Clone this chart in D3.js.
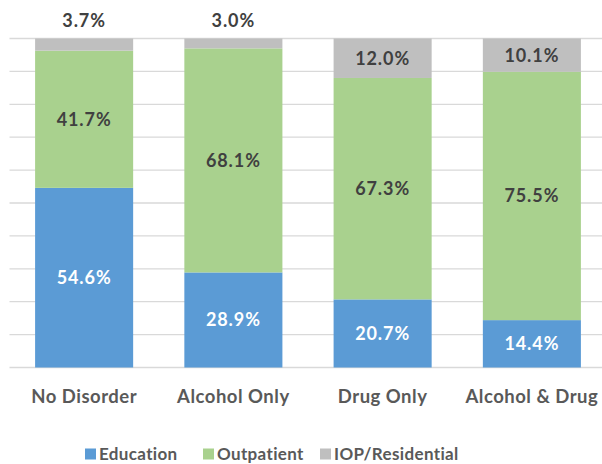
<!DOCTYPE html>
<html><head><meta charset="utf-8">
<script src="https://cdn.jsdelivr.net/npm/d3@7"></script>
<style>body{margin:0;background:#fff}svg{display:block}</style>
</head><body>
<svg id="c" width="602" height="464"></svg>
<script>
const categories = ["No Disorder", "Alcohol Only", "Drug Only", "Alcohol & Drug"];
const seriesNames = ["Education", "Outpatient", "IOP/Residential"];
const education = [54.6, 28.9, 20.7, 14.4];
const outpatient = [41.7, 68.1, 67.3, 75.5];
const iop = [3.7, 3.0, 12.0, 10.1];
const yTicks = [0,10,20,30,40,50,60,70,80,90,100];
const colors = ["#5B9BD5", "#A9D18E", "#BFBFBF"];
const labelColors = ["#ffffff", "#404040", "#404040"];

const svg = d3.select("#c");
const font = "Lato, 'Open Sans', sans-serif";
const m = {left: 9.5, right: -4.5, top: 38.5, bottom: 96.5};
const W = 602, H = 464;
const x = d3.scaleBand().domain(categories).range([m.left, W - m.right]).paddingInner(0.343).paddingOuter(0.1715);
const y = d3.scaleLinear().domain([0, 100]).range([H - m.bottom, m.top]);

// gridlines
svg.append("g").selectAll("line").data(yTicks).join("line")
  .attr("x1", m.left).attr("x2", W).attr("y1", d => y(d)).attr("y2", d => y(d))
  .attr("stroke", "#D9D9D9").attr("stroke-width", 1.3);

const rows = categories.map((c, i) => ({cat: c, Education: education[i], Outpatient: outpatient[i], "IOP/Residential": iop[i]}));
const stack = d3.stack().keys(seriesNames)(rows);

const g = svg.append("g");
stack.forEach((s, si) => {
  g.append("g").selectAll("rect").data(s).join("rect")
    .attr("x", d => x(d.data.cat)).attr("width", x.bandwidth())
    .attr("y", d => y(d[1])).attr("height", d => y(d[0]) - y(d[1]))
    .attr("fill", colors[si]);
});

// labels
stack.forEach((s, si) => {
  g.append("g").selectAll("text").data(s).join("text")
    .attr("x", d => x(d.data.cat) + x.bandwidth() / 2)
    .attr("y", d => {
      const v = d[1] - d[0];
      if (si === 2 && v < 5) return y(100) - 18;
      return (y(d[0]) + y(d[1])) / 2;
    })
    .attr("dy", "0.36em")
    .attr("text-anchor", "middle")
    .attr("font-family", font).attr("font-weight", 700).attr("font-size", 18)
    .attr("letter-spacing", 0.9)
    .attr("fill", labelColors[si])
    .text(d => (d[1] - d[0]).toFixed(1) + "%");
});

// x axis labels
const xa = svg.append("g").attr("transform", `translate(0,${H - m.bottom})`)
  .call(d3.axisBottom(x).tickSize(0).tickPadding(22));
xa.select(".domain").remove();
xa.selectAll("text").attr("font-family", font).attr("font-weight", 700).attr("font-size", 18.5)
  .attr("letter-spacing", 0.5).attr("fill", "#595959");

// legend
const legX = [85, 203, 320];
const leg = svg.append("g");
seriesNames.forEach((n, i) => {
  leg.append("rect").attr("x", legX[i]).attr("y", 448.5).attr("width", 11).attr("height", 11).attr("fill", colors[i]);
  leg.append("text").attr("x", legX[i] + 14).attr("y", 454).attr("dy", "0.36em")
    .attr("font-family", font).attr("font-weight", 700).attr("font-size", 17).attr("letter-spacing", 0.35)
    .attr("fill", "#595959").text(n);
});
</script>
</body></html>
